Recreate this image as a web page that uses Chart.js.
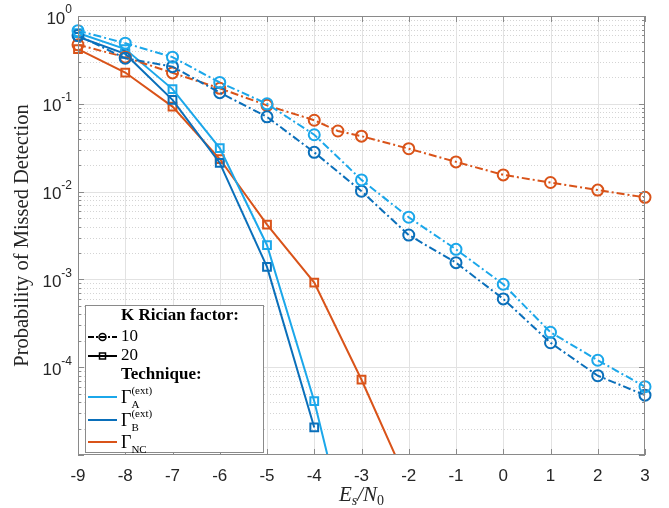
<!DOCTYPE html>
<html>
<head>
<meta charset="utf-8">
<script src="https://cdn.jsdelivr.net/npm/chart.js@4.4.1/dist/chart.umd.min.js"></script>
<style>
html, body { margin: 0; padding: 0; background: #fff; }
#wrap { width: 669px; height: 508px; }
</style>
</head>
<body>
<div id="wrap"><canvas id="pmd-chart" width="669" height="508"></canvas></div>
<script>
// Es/N0 values (dB)
var snr = [-9, -8, -7, -6, -5, -4, -3, -2, -1, 0, 1, 2, 3];
var snrNc10 = [-9, -8, -7, -6, -5, -4, -3.5, -3, -2, -1, 0, 1, 2, 3];

// K = 10 (dash-dot, circles)
var pA10 = [0.68, 0.49, 0.34, 0.175, 0.10, 0.0444, 0.0136, 0.0051, 0.0022, 0.00088, 0.00025, 0.00012, 0.00006];
var pB10 = [0.60, 0.33, 0.265, 0.134, 0.071, 0.028, 0.0101, 0.0032, 0.00155, 0.0006, 0.00019, 0.00008, 0.000048];
var pNC10 = [0.47, 0.34, 0.225, 0.15, 0.096, 0.065, 0.049, 0.0428, 0.0308, 0.0218, 0.0155, 0.0127, 0.0104, 0.0086];

// K = 20 (solid, squares)
var pA20 = [0.64, 0.42, 0.147, 0.0313, 0.00245, 0.000041, 0.00000026, null, null, null, null, null, null];
var pB20 = [0.58, 0.37, 0.111, 0.0212, 0.00139, 0.0000206, null, null, null, null, null, null, null];
var pNC20 = [0.42, 0.227, 0.093, 0.0235, 0.0042, 0.00092, 0.000072, 0.0000045, null, null, null, null, null];

// axis ticks
var xTicks = [-9, -8, -7, -6, -5, -4, -3, -2, -1, 0, 1, 2, 3];
var yTickExps = [0, -1, -2, -3, -4];

var lightBlue = '#1ba7ea';
var darkBlue = '#0a6fba';
var orange = '#d95319';

function pts(xs, ys) {
    var out = [];
    for (var i = 0; i < xs.length; i++) {
        if (ys[i] !== null) out.push({ x: xs[i], y: ys[i] });
    }
    return out;
}

function serie(label, xs, ys, color, k10) {
    return {
        label: label,
        data: pts(xs, ys),
        borderColor: color,
        borderWidth: 2,
        borderDash: k10 ? [8, 3, 2, 3] : [],
        pointStyle: k10 ? 'circle' : 'rect',
        pointRadius: 5.5,
        pointBorderWidth: 2,
        pointBorderColor: color,
        pointBackgroundColor: 'rgba(0,0,0,0)',
        tension: 0,
        clip: { left: 10, right: 10, top: 10, bottom: 0 }
    };
}

function hline(ctx, x1, x2, y) {
    ctx.beginPath(); ctx.moveTo(x1, y); ctx.lineTo(x2, y); ctx.stroke();
}
function vline(ctx, x, y1, y2) {
    ctx.beginPath(); ctx.moveTo(x, y1); ctx.lineTo(x, y2); ctx.stroke();
}

function drawGamma(ctx, x, y, sub, sup) {
    ctx.textBaseline = 'alphabetic';
    ctx.textAlign = 'left';
    ctx.font = '18px "Liberation Serif"';
    ctx.fillText('\u0393', x, y);
    var w = ctx.measureText('\u0393').width;
    ctx.font = '11px "Liberation Serif"';
    ctx.fillText(sub, x + w, y + 5);
    if (sup) ctx.fillText(sup, x + w, y - 9);
}

var decor = {
    id: 'decor',
    beforeDatasetsDraw: function(chart) {
        var ctx = chart.ctx, a = chart.chartArea;
        var xs = chart.scales.x, ys = chart.scales.y;
        ctx.save();
        ctx.lineWidth = 1;
        // minor grid (dotted)
        ctx.strokeStyle = '#d4d4d4';
        ctx.setLineDash([1, 2]);
        for (var e = -5; e < 0; e++) {
            for (var m = 2; m <= 9; m++) {
                var py = Math.round(ys.getPixelForValue(m * Math.pow(10, e))) + 0.5;
                hline(ctx, a.left, a.right, py);
            }
        }
        ctx.setLineDash([]);
        ctx.strokeStyle = '#e2e2e2';
        for (var d = -4; d <= -1; d++) {
            var py2 = Math.round(ys.getPixelForValue(Math.pow(10, d))) + 0.5;
            hline(ctx, a.left, a.right, py2);
        }
        for (var i = 1; i < xTicks.length - 1; i++) {
            var px = Math.round(xs.getPixelForValue(xTicks[i])) + 0.5;
            vline(ctx, px, a.top, a.bottom);
        }
        ctx.restore();
    },
    afterDraw: function(chart) {
        var ctx = chart.ctx, a = chart.chartArea;
        var xs = chart.scales.x, ys = chart.scales.y;
        ctx.save();

        // box and inner ticks
        ctx.strokeStyle = '#8a8a8a';
        ctx.lineWidth = 1;
        ctx.strokeRect(a.left + 0.5, a.top + 0.5, a.right - a.left - 1, a.bottom - a.top - 1);
        for (var i = 0; i < xTicks.length; i++) {
            var px = Math.round(xs.getPixelForValue(xTicks[i])) + 0.5;
            vline(ctx, px, a.bottom, a.bottom - 6);
            vline(ctx, px, a.top, a.top + 6);
        }
        for (var e = -5; e <= 0; e++) {
            for (var m = 1; m <= 9; m++) {
                var v = m * Math.pow(10, e);
                if (v > 1) break;
                var py = Math.round(ys.getPixelForValue(v)) + 0.5;
                var len = m === 1 ? 6 : 3;
                hline(ctx, a.left, a.left + len, py);
                hline(ctx, a.right - len, a.right, py);
            }
        }

        // x tick labels
        ctx.fillStyle = '#262626';
        ctx.font = '17px "Liberation Sans"';
        ctx.textAlign = 'center';
        ctx.textBaseline = 'middle';
        for (var j = 0; j < xTicks.length; j++) {
            ctx.fillText(String(xTicks[j]), xs.getPixelForValue(xTicks[j]), a.bottom + 21);
        }

        // y tick labels 10^k
        for (var k = 0; k < yTickExps.length; k++) {
            var yy = ys.getPixelForValue(Math.pow(10, yTickExps[k]));
            var ex = String(yTickExps[k]);
            ctx.font = '12px "Liberation Sans"';
            var we = ctx.measureText(ex).width;
            ctx.font = '17px "Liberation Sans"';
            var wb = ctx.measureText('10').width;
            var right = a.left - 6;
            ctx.textAlign = 'left';
            ctx.fillText('10', right - we - wb, yy + 3);
            ctx.font = '12px "Liberation Sans"';
            ctx.fillText(ex, right - we, yy - 6);
        }

        // y title
        ctx.save();
        ctx.translate(23, (a.top + a.bottom) / 2);
        ctx.rotate(-Math.PI / 2);
        ctx.fillStyle = '#262626';
        ctx.font = '20.5px "Liberation Serif"';
        ctx.textAlign = 'center';
        ctx.textBaseline = 'middle';
        ctx.fillText('Probability of Missed Detection', 0, 0);
        ctx.restore();

        // x title E_s/N_0
        ctx.fillStyle = '#262626';
        ctx.textBaseline = 'alphabetic';
        ctx.textAlign = 'left';
        var parts = [
            ['E', 'italic 21px "Liberation Serif"', 0],
            ['s', 'italic 14px "Liberation Serif"', 4],
            ['/N', 'italic 21px "Liberation Serif"', 0],
            ['0', '14px "Liberation Serif"', 4]
        ];
        var tw = 0;
        parts.forEach(function(p) { ctx.font = p[1]; tw += ctx.measureText(p[0]).width; });
        var cx = (a.left + a.right) / 2 - tw / 2;
        parts.forEach(function(p) {
            ctx.font = p[1];
            ctx.fillText(p[0], cx, 501 + p[2]);
            cx += ctx.measureText(p[0]).width;
        });

        // legend
        var L = 85, T = 305, R = 263, B = 452;
        ctx.fillStyle = '#fff';
        ctx.fillRect(L, T, R - L, B - T);
        ctx.strokeStyle = '#8a8a8a';
        ctx.lineWidth = 1;
        ctx.strokeRect(L + 0.5, T + 0.5, R - L, B - T);
        var tx = 121, s1 = 88, s2 = 117;
        ctx.fillStyle = '#000';
        ctx.textAlign = 'left';
        ctx.textBaseline = 'middle';
        ctx.font = 'bold 17px "Liberation Serif"';
        ctx.fillText('K Rician factor:', tx, 316);
        // K = 10
        ctx.strokeStyle = '#000';
        ctx.lineWidth = 2;
        ctx.setLineDash([6, 2, 2, 2]);
        hline(ctx, s1, s2, 337);
        ctx.setLineDash([]);
        ctx.lineWidth = 1.5;
        ctx.beginPath(); ctx.arc((s1 + s2) / 2, 337, 3.5, 0, Math.PI * 2); ctx.stroke();
        ctx.font = '17px "Liberation Serif"';
        ctx.fillText('10', tx, 337);
        // K = 20
        ctx.lineWidth = 2;
        hline(ctx, s1, s2, 356);
        ctx.lineWidth = 1.5;
        ctx.strokeRect((s1 + s2) / 2 - 3, 353, 6, 6);
        ctx.fillText('20', tx, 356);
        ctx.font = 'bold 17px "Liberation Serif"';
        ctx.fillText('Technique:', tx, 375);
        // techniques
        var techs = [[lightBlue, 397, 'A', '(ext)'], [darkBlue, 420, 'B', '(ext)'], [orange, 442, 'NC', null]];
        techs.forEach(function(t) {
            ctx.strokeStyle = t[0];
            ctx.lineWidth = 2;
            hline(ctx, s1, s2, t[1]);
            ctx.fillStyle = '#000';
            drawGamma(ctx, tx, t[1] + 6, t[2], t[3]);
        });

        ctx.restore();
    }
};

var ctx = document.getElementById('pmd-chart');
var pmdChart = new Chart(ctx, {
    type: 'line',
    data: {
        datasets: [
            serie('Gamma A, K=10', snr, pA10, lightBlue, true),
            serie('Gamma B, K=10', snr, pB10, darkBlue, true),
            serie('Gamma NC, K=10', snrNc10, pNC10, orange, true),
            serie('Gamma A, K=20', snr, pA20, lightBlue, false),
            serie('Gamma B, K=20', snr, pB20, darkBlue, false),
            serie('Gamma NC, K=20', snr, pNC20, orange, false)
        ]
    },
    options: {
        responsive: false,
        animation: false,
        devicePixelRatio: 1,
        layout: { padding: { left: 78, top: 16, right: 24, bottom: 53 } },
        plugins: {
            legend: { display: false },
            tooltip: { enabled: false }
        },
        scales: {
            x: { type: 'linear', min: -9, max: 3, display: false },
            y: { type: 'logarithmic', min: 1e-5, max: 1, display: false }
        }
    },
    plugins: [decor]
});
</script>
</body>
</html>
